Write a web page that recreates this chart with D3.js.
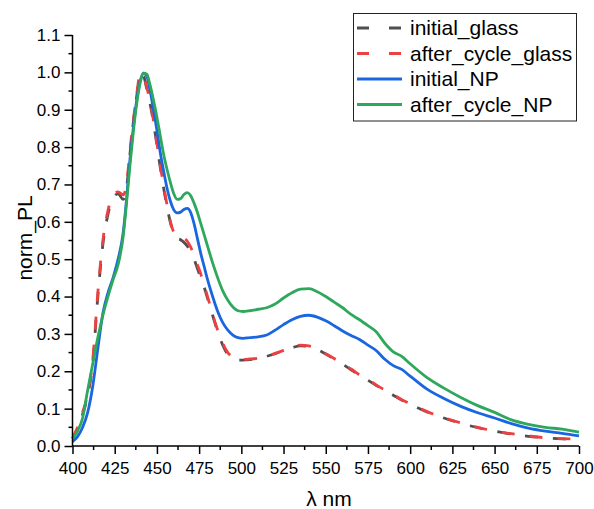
<!DOCTYPE html>
<html>
<head>
<meta charset="utf-8">
<script src="https://cdn.jsdelivr.net/npm/d3@7"></script>
<style>
  body { margin: 0; background: #fff; }
  text { font-family: "Liberation Sans", Arial, sans-serif; fill: #000; }
</style>
</head>
<body>
<div class="chart"></div>
<script>
(function(){

  // wavelength grid (nm) shared by all four spectra
  var wavelength = [400,403,406,409,412,415,418,421,424,427,430,
    432,434,436,438,440,442,444,446,448,450,452,454,456,458,460,462,464,466,468,470,472,474,476,478,480,
    483,486,489,492,495,498,
    501,505,510,515,520,525,530,535,540,545,550,555,560,565,570,575,580,585,590,595,600,
    610,620,630,640,650,660,670,680,690,700]

  var initialGlass = [0.02,0.048,0.085,0.135,0.225,0.40,0.54,0.62,0.665,0.675,0.66,
    0.69,0.78,0.865,0.935,0.99,0.99,0.955,0.915,0.865,0.805,0.745,0.69,0.64,0.598,0.568,0.556,0.552,0.545,0.535,0.52,0.50,0.475,0.45,0.425,0.395,
    0.35,0.305,0.27,0.245,0.235,0.23,
    0.23,0.231,0.234,0.24,0.247,0.255,0.263,0.268,0.266,0.258,0.246,0.233,0.219,0.204,0.189,0.176,0.162,0.149,0.136,0.123,0.112,
    0.091,0.075,0.061,0.049,0.04,0.032,0.026,0.022,0.019,0.017]

  var afterCycleGlass = [0.02,0.05,0.09,0.14,0.23,0.41,0.55,0.63,0.672,0.68,0.672,
    0.70,0.79,0.87,0.94,0.995,0.99,0.96,0.92,0.87,0.81,0.75,0.695,0.645,0.60,0.572,0.562,0.558,0.556,0.548,0.532,0.51,0.485,0.46,0.43,0.40,
    0.352,0.31,0.275,0.25,0.238,0.233,
    0.232,0.233,0.235,0.24,0.248,0.256,0.264,0.27,0.268,0.26,0.247,0.234,0.22,0.206,0.19,0.178,0.163,0.15,0.137,0.124,0.113,
    0.092,0.076,0.062,0.05,0.04,0.033,0.027,0.022,0.02,0.018]

  var initialNP = [0.012,0.025,0.05,0.09,0.16,0.26,0.355,0.41,0.45,0.50,0.57,
    0.66,0.765,0.85,0.925,0.975,0.998,0.99,0.95,0.90,0.845,0.785,0.735,0.69,0.655,0.632,0.624,0.626,0.633,0.636,0.625,0.595,0.555,0.515,0.48,0.445,
    0.40,0.36,0.33,0.31,0.297,0.29,
    0.288,0.29,0.292,0.297,0.31,0.325,0.338,0.347,0.35,0.345,0.335,0.322,0.308,0.296,0.285,0.27,0.255,0.232,0.215,0.205,0.187,
    0.152,0.127,0.106,0.089,0.075,0.06,0.048,0.04,0.034,0.027]

  var afterCycleNP = [0.02,0.04,0.075,0.15,0.22,0.29,0.35,0.40,0.445,0.485,0.56,
    0.65,0.75,0.84,0.915,0.97,0.998,0.995,0.965,0.925,0.88,0.83,0.78,0.74,0.705,0.675,0.66,0.662,0.673,0.678,0.67,0.65,0.625,0.595,0.565,0.535,
    0.49,0.45,0.415,0.39,0.372,0.362,
    0.36,0.362,0.366,0.37,0.38,0.396,0.41,0.42,0.421,0.413,0.40,0.385,0.37,0.352,0.338,0.322,0.305,0.275,0.252,0.24,0.22,
    0.183,0.155,0.13,0.108,0.09,0.07,0.058,0.05,0.045,0.037]

  var seriesNames = ['initial_glass','after_cycle_glass','initial_NP','after_cycle_NP']
  var seriesColors = ['#4f4f4f','#ee4040','#1a66e0','#2ea85c']
  var seriesDash = ['13,15','13,15',null,null]
  var seriesValues = [initialGlass, afterCycleGlass, initialNP, afterCycleNP]

  var xTicks = d3.range(400, 701, 25)
  var yTicks = d3.range(0, 12).map(function(i){ return i/10 })

  var W = 594, H = 509
  var margin = { top: 35, left: 72.5 }
  var width = 579 - margin.left,
      height = 446 - margin.top

  var svg = d3.select(".chart").append("svg")
        .attr("width", W)
        .attr("height", H)

  var g = svg.append("g")
        .attr("transform", "translate(" + margin.left + "," + margin.top + ")")

  var xScale = d3.scaleLinear().domain([400, 700]).range([0, width])
  var yScale = d3.scaleLinear().domain([0, 1.1]).range([height, 0])

  // curves
  var line = d3.line()
    .x(function(d){ return xScale(d[0]) })
    .y(function(d){ return yScale(d[1]) })
    .curve(d3.curveMonotoneX)

  seriesValues.forEach(function(vals, i){
    var pts = wavelength.map(function(w, j){ return [w, vals[j]] })
    g.append('path')
      .datum(pts)
      .attr('d', line)
      .style('fill', 'none')
      .style('stroke', seriesColors[i])
      .style('stroke-width', 2.8)
      .style('stroke-dasharray', seriesDash[i])
      .style('stroke-dashoffset', i == 0 ? 3 : 0)
      .style('stroke-linejoin', 'round')
  })

  // axes
  var xAxis = g.append('g')
    .attr('transform', 'translate(0,' + height + ')')
    .call(d3.axisBottom(xScale).tickValues(xTicks).tickSize(8).tickPadding(8).tickFormat(d3.format('d')))
  xAxis.append('g').selectAll('line')
    .data(d3.range(412.5, 700, 25))
    .enter().append('line')
    .attr('x1', function(d){ return xScale(d) })
    .attr('x2', function(d){ return xScale(d) })
    .attr('y1', 0).attr('y2', 4)
    .style('stroke', '#000').style('stroke-width', 1.5)

  var yAxis = g.append('g')
    .call(d3.axisLeft(yScale).tickValues(yTicks).tickSize(8).tickPadding(4).tickFormat(d3.format('.1f')))
  yAxis.append('g').selectAll('line')
    .data(d3.range(0, 11).map(function(i){ return i/10 + 0.05 }))
    .enter().append('line')
    .attr('y1', function(d){ return yScale(d) })
    .attr('y2', function(d){ return yScale(d) })
    .attr('x1', 0).attr('x2', -4)
    .style('stroke', '#000').style('stroke-width', 1.5)

  xAxis.select('.domain').remove()
  yAxis.select('.domain').remove()
  g.append('line').attr('x1', 0).attr('x2', width).attr('y1', height).attr('y2', height)
    .style('stroke', '#000').style('stroke-width', 1.5)
  g.append('line').attr('x1', 0).attr('x2', 0).attr('y1', 0).attr('y2', height)
    .style('stroke', '#000').style('stroke-width', 1.5)

  g.selectAll('.tick line').style('stroke', '#000').style('stroke-width', 1.5)
  g.selectAll('.tick text')
    .style('font-family', '"Liberation Sans", Arial, sans-serif')
    .style('font-size', '17px')
    .style('fill', '#000')

  // axis titles
  svg.append('text')
    .attr('x', 329)
    .attr('y', 506)
    .attr('text-anchor', 'middle')
    .style('font-size', '21px')
    .text('λ nm')

  svg.append('text')
    .attr('transform', 'translate(32,238) rotate(-90)')
    .attr('text-anchor', 'middle')
    .style('font-size', '21px')
    .text('norm_PL')

  // legend
  var legend = svg.append('g').attr('class', 'legend')
  legend.append('rect')
    .attr('x', 353.5).attr('y', 13.5)
    .attr('width', 223).attr('height', 107.5)
    .style('fill', '#fff')
    .style('stroke', '#222')
    .style('stroke-width', 1)

  var items = legend.selectAll('.item')
    .data(seriesNames)
    .enter().append('g')
    .attr('class', 'item')
    .attr('transform', function(d, i){ return 'translate(0,' + (28 + i*25.5) + ')' })

  items.append('line')
    .attr('x1', 357).attr('x2', 402)
    .attr('y1', 0).attr('y2', 0)
    .style('stroke', function(d, i){ return seriesColors[i] })
    .style('stroke-width', 3)
    .style('stroke-dasharray', function(d, i){ return seriesDash[i] ? '12,20' : null })

  items.append('text')
    .attr('x', 410)
    .attr('y', 0)
    .attr('dy', '0.35em')
    .style('font-size', '21px')
    .text(function(d){ return d })

})()
</script>
</body>
</html>
